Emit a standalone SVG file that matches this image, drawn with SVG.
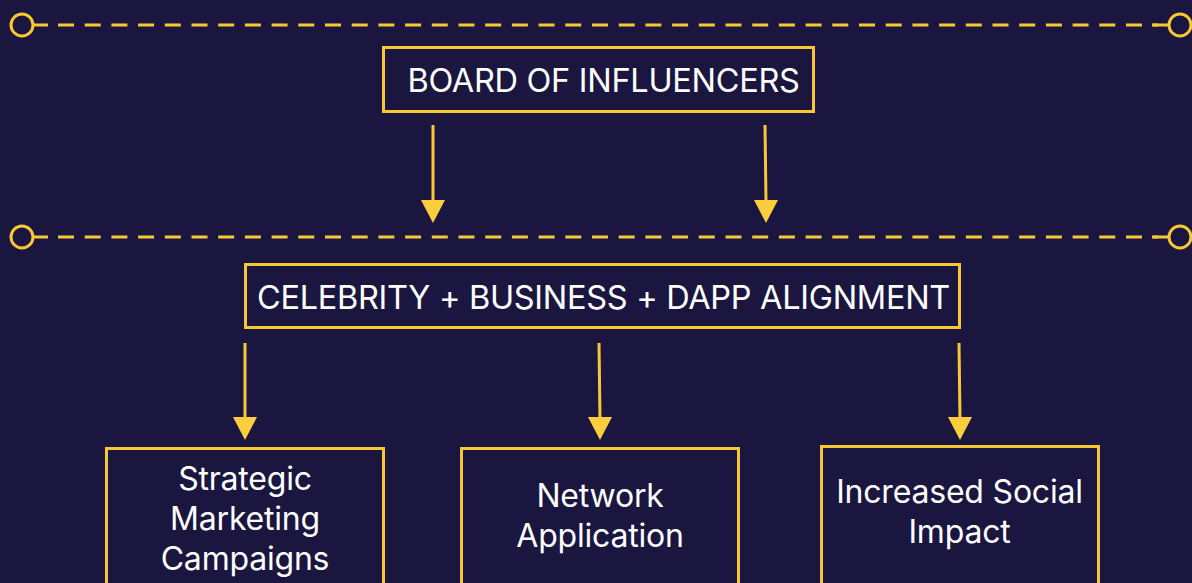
<svg xmlns="http://www.w3.org/2000/svg" width="1192" height="583" viewBox="0 0 1192 583">
<defs>
<style>
.bg{fill:#1a1640}
.dash{stroke:#f8c833;stroke-width:3;stroke-dasharray:16 10.7;fill:none}
.solid{stroke:#f8c833;stroke-width:3;fill:none}
.ring{stroke:#f8c833;stroke-width:3;fill:#1a1640}
.box{fill:#1a1640;stroke:#f8c833;stroke-width:3}
.conn{stroke:#f8c833;stroke-width:3;fill:none}
.head{fill:#fccd3c}
.t{font-family:Inter,"Liberation Sans",sans-serif;fill:#ffffff;text-anchor:middle}
.big{font-size:32.5px;letter-spacing:-0.3px}
.mid{font-size:32px;letter-spacing:-0.2px}
</style>
</defs>
<rect class="bg" x="0" y="0" width="1192" height="583"/>
<g id="divider-top">
<line class="solid" x1="33" y1="25" x2="48" y2="25"/>
<line class="dash" x1="58" y1="25" x2="1158" y2="25"/>
<line class="solid" x1="1152" y1="25" x2="1169" y2="25"/>
<circle class="ring" cx="22" cy="25" r="11"/>
<circle class="ring" cx="1180" cy="25" r="11"/>
</g>
<g id="divider-mid">
<line class="solid" x1="33" y1="237" x2="48" y2="237"/>
<line class="dash" x1="58" y1="237" x2="1158" y2="237"/>
<line class="solid" x1="1152" y1="237" x2="1169" y2="237"/>
<circle class="ring" cx="22" cy="237" r="11"/>
<circle class="ring" cx="1180" cy="237" r="11"/>
</g>
<g id="board">
<rect class="box" x="383.5" y="47.5" width="430" height="64"/>
<text class="t big" x="603.5" y="92">BOARD OF INFLUENCERS</text>
</g>
<g id="alignment">
<rect class="box" x="245.5" y="264.5" width="714" height="63"/>
<text class="t big" x="603.5" y="309">CELEBRITY + BUSINESS + DAPP ALIGNMENT</text>
</g>
<g id="strategic">
<rect class="box" x="106.5" y="448.5" width="277" height="150"/>
<text class="t mid" x="245" y="490">Strategic</text>
<text class="t mid" x="245" y="530">Marketing</text>
<text class="t mid" x="245" y="570">Campaigns</text>
</g>
<g id="network">
<rect class="box" x="461.5" y="448.5" width="277" height="150"/>
<text class="t mid" x="600" y="507">Network</text>
<text class="t mid" x="600" y="547">Application</text>
</g>
<g id="impact">
<rect class="box" x="821.5" y="446.5" width="277" height="150"/>
<text class="t mid" x="959.5" y="503">Increased Social</text>
<text class="t mid" x="959.5" y="543">Impact</text>
</g>
<g id="connectors">
<line class="conn" x1="433" y1="125" x2="433" y2="202"/>
<polygon class="head" points="421,200 445,200 433,223"/>
<line class="conn" x1="765" y1="125" x2="766" y2="202"/>
<polygon class="head" points="754,200 778,200 766,223"/>
<line class="conn" x1="245" y1="343" x2="245" y2="419"/>
<polygon class="head" points="233,417 257,417 245,440"/>
<line class="conn" x1="599" y1="343" x2="600" y2="419"/>
<polygon class="head" points="588,417 612,417 600,440"/>
<line class="conn" x1="959" y1="343" x2="960" y2="419"/>
<polygon class="head" points="948,417 972,417 960,440"/>
</g>
</svg>
